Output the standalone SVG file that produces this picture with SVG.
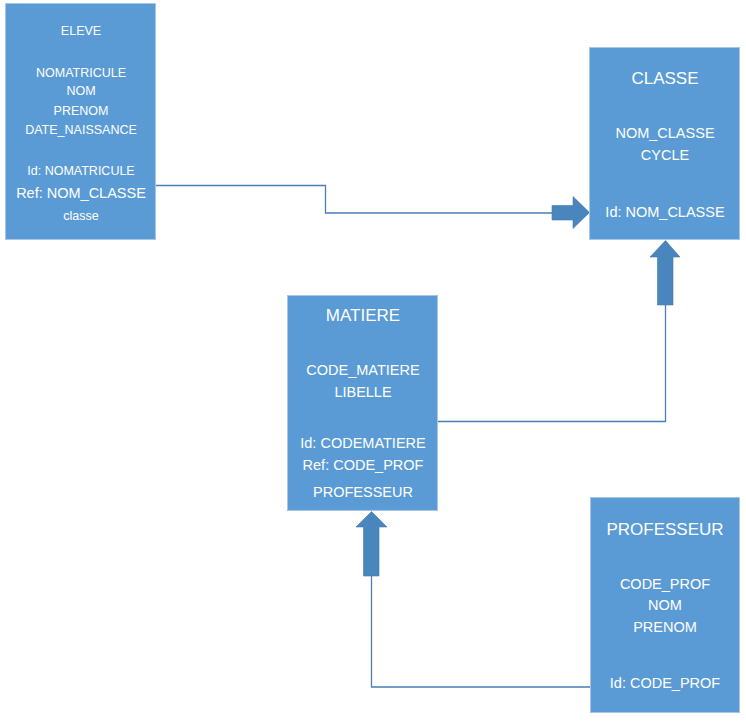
<svg xmlns="http://www.w3.org/2000/svg" width="746" height="722" viewBox="0 0 746 722">
<style>
.box{fill:#5b9bd5;stroke:#a9c6e6;stroke-width:1}
.sh{fill:#e3edf7}
text{font-family:"Liberation Sans",Arial,sans-serif;fill:#ffffff;text-anchor:middle;font-size:12.5px}
.t{font-size:17px}
.r{font-size:14.5px}
.c{fill:none;stroke:#4a7eb5;stroke-width:1.3}
.a{fill:#4a86be;stroke:#4579ae;stroke-width:0.6}
</style>
<rect width="746" height="722" fill="#ffffff"/>
<g id="connectors">
<polyline class="c" points="156,185.5 325.5,185.5 325.5,213 552,213"/>
<polygon class="a" points="552,205.5 573,205.5 573,196.5 589.5,212.5 573,228.5 573,220 552,220"/>
<polyline class="c" points="438,421.5 665.5,421.5 665.5,305"/>
<polygon class="a" points="657.5,305 657.5,257 650,257 665.5,240.5 680,257 673,257 673,305"/>
<polyline class="c" points="590,687 371.5,687 371.5,576"/>
<polygon class="a" points="363.5,576 363.5,527 356,527 371.5,511.5 387,527 379,527 379,576"/>
</g>
<g id="eleve">
<rect class="box" x="5.5" y="3.5" width="150" height="236"/>
<text x="81" y="35" font-size="14">ELEVE</text>
<text x="81" y="77">NOMATRICULE</text>
<text x="81" y="95">NOM</text>
<text x="81" y="115">PRENOM</text>
<text x="81" y="134">DATE_NAISSANCE</text>
<text x="81" y="175">Id: NOMATRICULE</text>
<text class="r" x="81" y="198">Ref: NOM_CLASSE</text>
<text x="81" y="220">classe</text>
</g>
<g id="classe">
<rect class="box" x="589.5" y="47.5" width="150" height="192"/>
<text class="t" x="665" y="84">CLASSE</text>
<text class="r" x="665" y="138">NOM_CLASSE</text>
<text class="r" x="665" y="160">CYCLE</text>
<text class="r" x="665" y="217">Id: NOM_CLASSE</text>
</g>
<g id="matiere">
<rect class="box" x="287.5" y="295.5" width="150" height="215"/>
<text class="t" x="363" y="321">MATIERE</text>
<text class="r" x="363" y="375">CODE_MATIERE</text>
<text class="r" x="363" y="397">LIBELLE</text>
<text class="r" x="363" y="448">Id: CODEMATIERE</text>
<text class="r" x="363" y="470">Ref: CODE_PROF</text>
<text class="r" x="363" y="497">PROFESSEUR</text>
</g>
<g id="professeur">
<rect class="box" x="590.5" y="497.5" width="149" height="215"/>
<text class="t" x="665" y="535">PROFESSEUR</text>
<text class="r" x="665" y="589">CODE_PROF</text>
<text class="r" x="665" y="610">NOM</text>
<text class="r" x="665" y="632">PRENOM</text>
<text class="r" x="665" y="688">Id: CODE_PROF</text>
</g>
</svg>
